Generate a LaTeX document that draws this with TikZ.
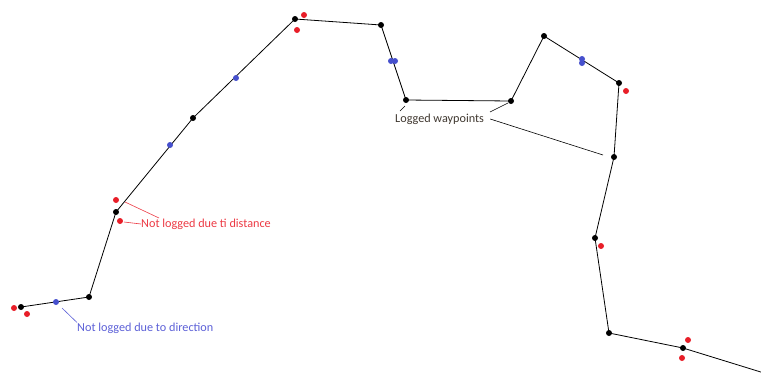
\documentclass[tikz,border=0pt]{standalone}
\usepackage{fontspec}
\setmainfont{Carlito}
\begin{document}
\begin{tikzpicture}[x=1pt,y=-1pt,
  route/.style={draw=black,line width=0.8pt},
  wp/.style={circle,fill=black,inner sep=0pt,minimum size=6pt},
  skipd/.style={circle,fill=redpt,inner sep=0pt,minimum size=6pt},
  skipa/.style={circle,fill=bluept,inner sep=0pt,minimum size=6pt},
  lbl/.style={font=\fontsize{12.2}{14}\selectfont,inner sep=0pt,anchor=west},
  callout/.style={line width=0.6pt}]
\definecolor{redpt}{RGB}{232,30,40}
\definecolor{redtxt}{RGB}{236,58,68}
\definecolor{bluept}{RGB}{70,80,205}
\definecolor{bluetxt}{RGB}{92,96,215}
\definecolor{graytxt}{RGB}{64,56,48}
\useasboundingbox (0,0) rectangle (761,376);

% logged waypoints
\node[wp] (p0) at (21,307) {};
\node[wp] (p1) at (89,297) {};
\node[wp] (p2) at (116,212) {};
\node[wp] (p3) at (193,118) {};
\node[wp] (p4) at (295,19) {};
\node[wp] (p5) at (381,25) {};
\node[wp] (p6) at (406,100) {};
\node[wp] (p7) at (511,101) {};
\node[wp] (p8) at (544,36) {};
\node[wp] (p9) at (619,83) {};
\node[wp] (p10) at (614,157) {};
\node[wp] (p11) at (595,238) {};
\node[wp] (p12) at (609,333) {};
\node[wp] (p13) at (683,348) {};
\coordinate (pend) at (764,373);

\draw[route] (p0.center) -- (p1.center) -- (p2.center) -- (p3.center) -- (p4.center)
  -- (p5.center) -- (p6.center) -- (p7.center) -- (p8.center) -- (p9.center)
  -- (p10.center) -- (p11.center) -- (p12.center) -- (p13.center) -- (pend);

% points skipped because of direction
\node[skipa] (b0) at (56,302) {};
\node[skipa] (b1) at (170,145) {};
\node[skipa] (b2) at (236,78) {};
\node[skipa] (b3a) at (391,61) {};
\node[skipa] (b3b) at (395,61) {};
\node[skipa] (b4a) at (582,59) {};
\node[skipa] (b4b) at (582,63) {};

% points skipped because of distance
\node[skipd] (r0) at (14,308) {};
\node[skipd] (r1) at (27,314) {};
\node[skipd] (r2) at (116,200) {};
\node[skipd] (r3) at (120,221) {};
\node[skipd] (r4) at (304,15) {};
\node[skipd] (r5) at (297,30) {};
\node[skipd] (r6) at (626,91) {};
\node[skipd] (r7) at (601,246) {};
\node[skipd] (r8) at (688,340) {};
\node[skipd] (r9) at (682,358) {};

% labels
\node[lbl,text=redtxt] (ldist) at (141,224) {Not logged due ti distance};
\node[lbl,text=bluetxt] (ldir) at (77,328) {Not logged due to direction};
\node[lbl,text=graytxt] (llog) at (395,119) {Logged waypoints};

% callout lines
\coordinate (cd1) at (125,202);
\coordinate (cd2) at (124,222);
\coordinate (cd1e) at (159,218);
\draw[callout,redtxt] (cd1) -- (cd1e);
\draw[callout,redtxt] (cd2) -- (ldist.west);
\coordinate (cb) at (62,308);
\draw[callout,bluetxt] (cb) -- (ldir.north west);
\coordinate (cl1) at (405,106);
\coordinate (cl2) at (508,103);
\coordinate (cl3) at (603,155);
\draw[callout,black] (cl1) -- (400,111);
\draw[callout,black] (cl2) -- (490,112);
\draw[callout,black] (cl3) -- ([xshift=6pt]llog.east);
\end{tikzpicture}
\end{document}
